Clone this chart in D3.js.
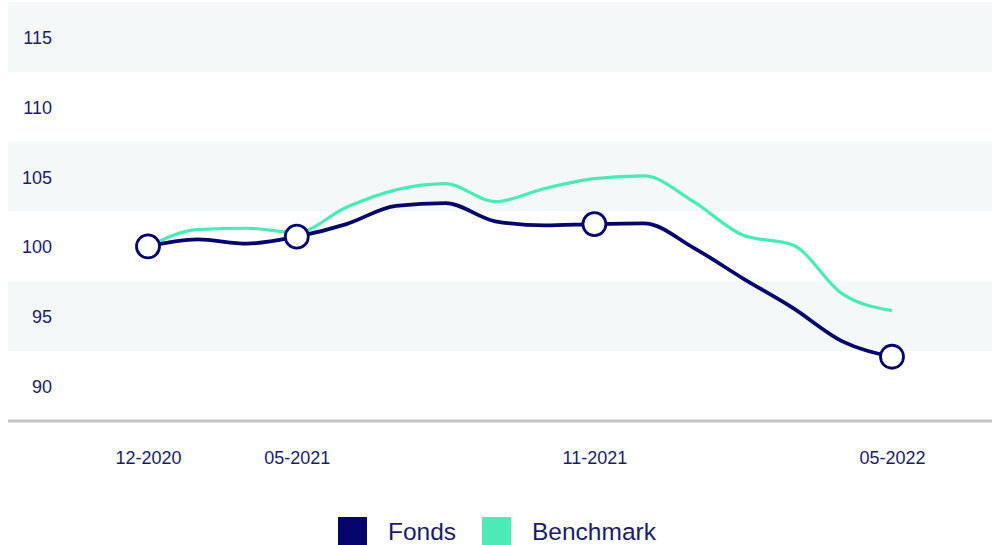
<!DOCTYPE html>
<html>
<head>
<meta charset="utf-8">
<script src="https://cdn.jsdelivr.net/npm/d3@7"></script>
<style>
  html, body { margin: 0; padding: 0; background: #ffffff; }
  svg { display: block; font-family: "Liberation Sans", Arial, sans-serif; }
</style>
</head>
<body>
<svg id="chart" width="992" height="545"></svg>
<script>
// Period labels along the x axis (blank = unlabeled data point)
const periods = ["12-2020", "", "", "05-2021", "", "", "", "", "", "11-2021", "", "", "", "", "", "05-2022"];
// Indexed performance, start = 100
const fonds     = [100.0, 100.5, 100.2, 100.7, 101.6, 102.9, 103.1, 101.8, 101.5, 101.6, 101.65, 99.9, 97.7, 95.6, 93.2, 92.1];
const benchmark = [100.0, 101.2, 101.3, 101.0, 102.8, 104.05, 104.5, 103.2, 104.15, 104.85, 105.05, 103.2, 100.8, 100.1, 96.6, 95.4];
const yTicks = [90, 95, 100, 105, 110, 115];
const seriesNames = ["Fonds", "Benchmark"];

const NAVY = "#05056b";
const GREEN = "#4beab6";
const TEXT = "#1b1b6b";
const FONT = "'Liberation Sans', Arial, sans-serif";

const svg = d3.select("#chart");
const plotLeft = 8, plotRight = 992, plotTop = 2, plotBottom = 421;

const x = d3.scalePoint().domain(d3.range(periods.length)).range([148, 892]);
const y = d3.scaleLinear().domain([87.5, 117.5]).range([plotBottom, plotTop]);

// alternating background bands
svg.append("g").selectAll("rect")
  .data(yTicks.filter((d, i) => i % 2 === 1))
  .join("rect")
  .attr("x", plotLeft).attr("width", plotRight - plotLeft)
  .attr("y", d => y(d + 2.5))
  .attr("height", d => y(d - 2.5) - y(d + 2.5))
  .attr("fill", "#f4f8f8");

// y axis labels
const yAxis = d3.axisLeft(y).tickValues(yTicks).tickSize(0).tickPadding(0);
svg.append("g")
  .attr("transform", `translate(52,0)`)
  .call(yAxis)
  .call(g => g.select(".domain").remove())
  .call(g => g.selectAll("text")
    .attr("fill", TEXT).attr("font-size", 18).attr("font-family", FONT)
    .attr("dy", "0.36em").attr("dx", 0));

// baseline
svg.append("line")
  .attr("x1", plotLeft).attr("x2", plotRight)
  .attr("y1", plotBottom).attr("y2", plotBottom)
  .attr("stroke", "#c4c4c4").attr("stroke-width", 3);

// x axis labels
const xAxis = d3.axisBottom(x)
  .tickValues(d3.range(periods.length).filter(i => periods[i] !== ""))
  .tickFormat(i => periods[i]).tickSize(0).tickPadding(0);
svg.append("g")
  .attr("transform", `translate(0,458)`)
  .call(xAxis)
  .call(g => g.select(".domain").remove())
  .call(g => g.selectAll("text")
    .attr("fill", TEXT).attr("font-size", 18).attr("font-family", FONT)
    .attr("dy", "0.36em"));

// lines
const line = d3.line()
  .x((d, i) => x(i))
  .y(d => y(d))
  .curve(d3.curveMonotoneX);

svg.append("path")
  .datum(benchmark)
  .attr("d", line)
  .attr("fill", "none").attr("stroke", GREEN).attr("stroke-width", 3.2);

svg.append("path")
  .datum(fonds)
  .attr("d", line)
  .attr("fill", "none").attr("stroke", NAVY).attr("stroke-width", 3.8);

// markers on labeled periods
svg.append("g").selectAll("circle")
  .data(d3.range(periods.length).filter(i => periods[i] !== ""))
  .join("circle")
  .attr("cx", i => x(i)).attr("cy", i => y(fonds[i]))
  .attr("r", 11.5)
  .attr("fill", "#ffffff").attr("stroke", NAVY).attr("stroke-width", 2.8);

// legend
const legend = svg.append("g");
const legendItems = [
  { name: seriesNames[0], color: NAVY, sx: 338, tx: 388 },
  { name: seriesNames[1], color: GREEN, sx: 482, tx: 532 }
];
legend.selectAll("rect")
  .data(legendItems).join("rect")
  .attr("x", d => d.sx).attr("y", 517).attr("width", 29).attr("height", 28)
  .attr("fill", d => d.color);
legend.selectAll("text")
  .data(legendItems).join("text")
  .attr("x", d => d.tx).attr("y", 531).attr("dy", "0.36em")
  .attr("fill", TEXT).attr("font-size", 24.5).attr("font-family", FONT)
  .text(d => d.name);
</script>
</body>
</html>
